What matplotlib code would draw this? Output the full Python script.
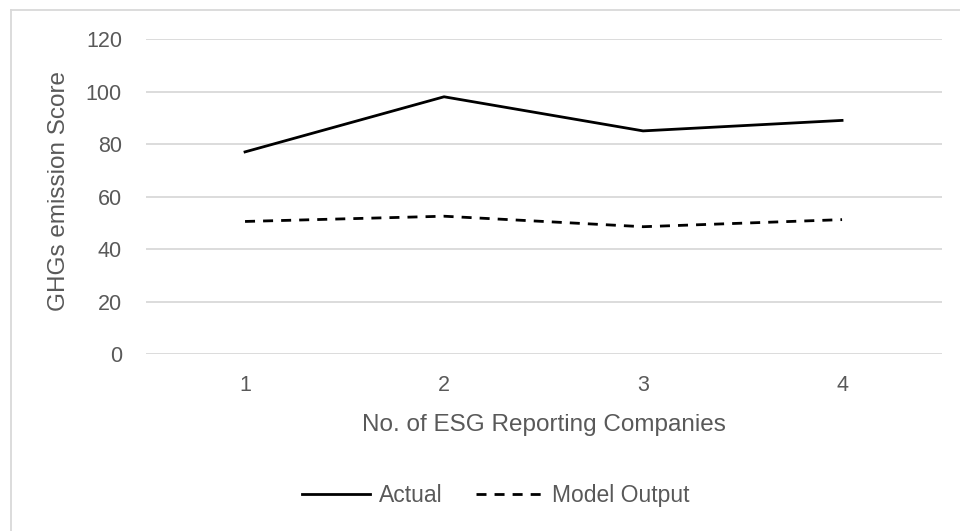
import matplotlib.pyplot as plt
from matplotlib.lines import Line2D

companies = [1, 2, 3, 4]
actual = [77, 98, 85, 89]
model_output = [50.5, 52.5, 48.5, 51.2]
y_ticks = [0, 20, 40, 60, 80, 100, 120]

plt.rcParams['font.family'] = ['Liberation Sans', 'DejaVu Sans']
grey = '#595959'

fig = plt.figure(figsize=(9.6, 5.31), dpi=100)
ax = fig.add_axes([0.1516, 0.3333, 0.8292, 0.5932])

ax.plot(companies, actual, color='black', linewidth=2, label='Actual')
ax.plot(companies, model_output, color='black', linewidth=2,
        linestyle=(0, (3.6, 2.9)), label='Model Output')

ax.set_xlim(0.5, 4.5)
ax.set_ylim(0, 120)
ax.set_yticks(y_ticks)
ax.set_xticks(companies)
ax.grid(axis='y', color='#d9d9d9', linewidth=1.3)
ax.set_axisbelow(True)
for s in ax.spines.values():
    s.set_visible(False)
ax.tick_params(length=0, labelsize=15.5, labelcolor=grey)
ax.tick_params(axis='x', pad=15)
ax.tick_params(axis='y', pad=17)

ax.set_xlabel('No. of ESG Reporting Companies', fontsize=17.5, color=grey)
ax.set_ylabel('GHGs emission Score', fontsize=17.5, color=grey)
ax.xaxis.label.set_va('center')
ax.yaxis.label.set_va('center')
ax.xaxis.set_label_coords(0.5, -0.2254)
ax.yaxis.set_label_coords(-0.1087, 0.519)

ax.legend(loc='center', bbox_to_anchor=(0.4403, -0.45), ncol=2, frameon=False,
          fontsize=16.5, labelcolor=grey, handlelength=2.97,
          columnspacing=1.48, handletextpad=0.35)

# chart area border (light grey)
fig.add_artist(Line2D([0.0115, 0.0115], [0, 0.981], color='#d9d9d9',
                      linewidth=1.3, transform=fig.transFigure))
fig.add_artist(Line2D([0.0115, 1.0], [0.981, 0.981], color='#d9d9d9',
                      linewidth=1.3, transform=fig.transFigure))

fig.savefig('out.png', dpi=100)
